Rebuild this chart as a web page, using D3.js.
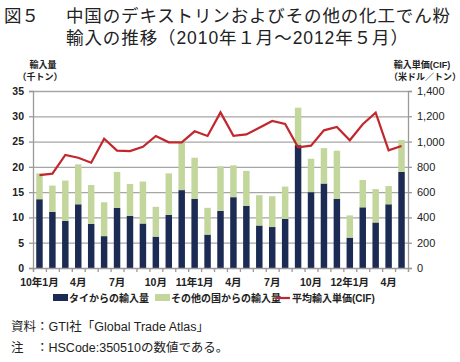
<!DOCTYPE html>
<html>
<head>
<meta charset="utf-8">
<script src="https://d3js.org/d3.v7.min.js"></script>
<style>
  body { margin: 0; background: #fff; }
  text { font-family: "Liberation Sans", "Noto Sans CJK JP", sans-serif; fill: #222; }
</style>
</head>
<body>
<div id="chart"></div>
<script>
// months Jan 2010 .. May 2012
const months = d3.range(29);
const tickLabels = ["10年1月", "", "", "4月", "", "", "7月", "", "", "10月", "", "",
  "11年1月", "", "", "4月", "", "", "7月", "", "", "10月", "", "",
  "12年1月", "", "", "4月", ""];

// thousand tonnes
const thailand = [13.6, 11.1, 9.3, 12.6, 8.7, 6.3, 11.9, 10.3, 8.8, 6.2,
  10.5, 15.4, 13.7, 6.6, 11.3, 14.0, 12.3, 8.4, 8.1, 9.7,
  24.3, 15.0, 16.7, 13.7, 6.0, 12.0, 9.0, 12.6, 19.0];
const totals = [18.7, 16.3, 17.3, 20.5, 16.4, 13.0, 19.0, 16.6, 17.1, 12.1,
  18.7, 24.8, 21.8, 11.9, 20.1, 20.3, 19.2, 14.4, 14.2, 16.1,
  31.7, 21.6, 23.7, 23.2, 10.4, 17.4, 15.6, 16.2, 25.3];
const others = totals.map((t, i) => +(t - thailand[i]).toFixed(1));

// US$/t
const price = [735, 746, 894, 872, 833, 1023, 928, 925, 959, 1044,
  994, 994, 1081, 1044, 1231, 1046, 1057, 1110, 1163, 1139,
  955, 968, 1089, 1115, 1010, 1137, 1228, 931, 965];

const W = 460, H = 362;
const m = { left: 33, right: 52, top: 91, bottom: 94 };
const x0 = m.left, x1 = W - m.right, y0 = H - m.bottom, y1 = m.top;

const svg = d3.select("#chart").append("svg").attr("width", W).attr("height", H);

const x = d3.scaleBand().domain(months).range([x0, x1]).paddingInner(0.5).paddingOuter(0.25);
const xb = d3.scaleLinear().domain([0, 29]).range([x0, x1]);
const y = d3.scaleLinear().domain([0, 35]).range([y0, y1]);
const yr = d3.scaleLinear().domain([0, 1400]).range([y0, y1]);

// title
const title = svg.append("g").style("font-size", "17.5px");
title.append("text").attr("x", 4).attr("y", 22).text("図５");
title.append("text").attr("x", 66).attr("y", 22).attr("textLength", 384).text("中国のデキストリンおよびその他の化工でん粉");
title.append("text").attr("x", 66).attr("y", 44).attr("textLength", 342).text("輸入の推移（2010年１月～2012年５月）");

// gridlines
svg.append("g").selectAll("line").data(d3.range(5, 36, 5)).join("line")
  .attr("x1", x0).attr("x2", x1).attr("y1", d => y(d) + 0.5).attr("y2", d => y(d) + 0.5)
  .attr("stroke", "#a6a6a6").attr("stroke-width", 1.3);

// bars
const stack = d3.stack().keys(["thai", "other"])(months.map(i => ({ thai: thailand[i], other: others[i] })));
const colors = { thai: "#1c2b53", other: "#c3d69b" };
svg.append("g").selectAll("g").data(stack).join("g")
  .attr("fill", d => colors[d.key])
  .selectAll("rect").data(d => d).join("rect")
  .attr("x", (d, i) => x(i)).attr("width", x.bandwidth())
  .attr("y", d => y(d[1])).attr("height", d => y(d[0]) - y(d[1]));

// price line
svg.append("path").datum(price)
  .attr("fill", "none").attr("stroke", "#c1272d").attr("stroke-width", 2.2)
  .attr("stroke-linejoin", "miter")
  .attr("d", d3.line().x((d, i) => x(i) + x.bandwidth() / 2).y(d => yr(d)));

// axes
const axisColor = "#9a9a9a";
const left = svg.append("g").attr("transform", `translate(${x0},0)`)
  .call(d3.axisLeft(y).tickValues(d3.range(0, 36, 5)).tickSize(4).tickPadding(5));
const right = svg.append("g").attr("transform", `translate(${x1},0)`)
  .call(d3.axisRight(yr).tickValues(d3.range(0, 1401, 200)).tickSize(4).tickPadding(5).tickFormat(d3.format(",")));
const bottom = svg.append("g").attr("transform", `translate(0,${y0})`)
  .call(d3.axisBottom(xb).tickValues(d3.range(0, 30)).tickSize(4).tickFormat(""));
[left, right, bottom].forEach(g => {
  g.select(".domain").attr("stroke", axisColor).attr("stroke-width", 1.3);
  g.selectAll(".tick line").attr("stroke", axisColor).attr("stroke-width", 1.3);
  g.selectAll("text").style("font-size", "10.5px").style("font-weight", "bold").attr("fill", "#222");
});
right.selectAll("text").style("font-weight", "normal").style("font-size", "11px");

// month labels
svg.append("g").selectAll("text").data(months.filter(i => tickLabels[i])).join("text")
  .attr("x", i => x(i) + x.bandwidth() / 2).attr("y", y0 + 18)
  .attr("text-anchor", "middle").style("font-size", "10.5px").style("font-weight", "bold")
  .text(i => tickLabels[i]);

// axis titles
const at = svg.append("g").style("font-size", "9px").style("font-weight", "bold").attr("text-anchor", "middle");
at.append("text").attr("x", 43).attr("y", 68).text("輸入量");
at.append("text").attr("x", 40).attr("y", 80).text("（千トン）");
at.append("text").attr("x", 422).attr("y", 68).text("輸入単価(CIF)");
at.append("text").attr("x", 425).attr("y", 80).text("（米ドル／トン）");

// legend
const lg = svg.append("g").style("font-size", "10px").style("font-weight", "bold");
lg.append("rect").attr("x", 53).attr("y", 294).attr("width", 15).attr("height", 7).attr("fill", colors.thai);
lg.append("text").attr("x", 69).attr("y", 302).text("タイからの輸入量");
lg.append("rect").attr("x", 155).attr("y", 294).attr("width", 15).attr("height", 7).attr("fill", colors.other);
lg.append("text").attr("x", 171).attr("y", 302).text("その他の国からの輸入量");
lg.append("line").attr("x1", 276).attr("x2", 290).attr("y1", 298).attr("y2", 298).attr("stroke", "#c1272d").attr("stroke-width", 2.2);
lg.append("text").attr("x", 292).attr("y", 302).text("平均輸入単価(CIF)");

// source notes
const nt = svg.append("g").style("font-size", "12.5px");
nt.append("text").attr("x", 11).attr("y", 331).text("資料：GTI社「Global Trade Atlas」");
nt.append("text").attr("x", 11).attr("y", 352).text("注　：HSCode:350510の数値である。");
</script>
</body>
</html>
